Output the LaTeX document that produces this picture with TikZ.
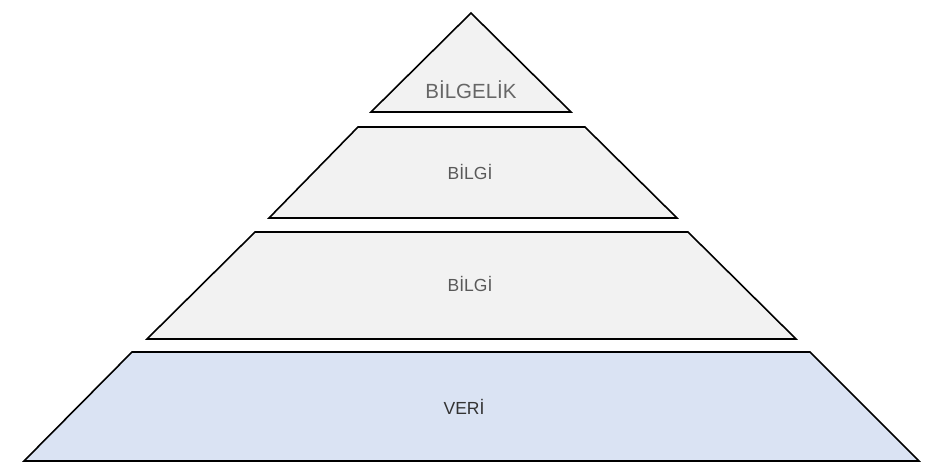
\documentclass[tikz,border=0pt]{standalone}
\usepackage{fontspec}
\setmainfont{Liberation Sans}
\definecolor{lvl}{HTML}{F2F2F2}
\definecolor{base}{HTML}{DAE3F3}
\begin{document}
\begin{tikzpicture}[x=1pt,y=-1pt,
  lvlbox/.style={draw=black,line width=1.6pt,line join=miter},
  lbl/.style={font=\fontsize{17.5}{20}\selectfont,text=black!65}]
\useasboundingbox (0,0) rectangle (943,474);
\draw[lvlbox,fill=lvl] (471,13) -- (571,112) -- (371,112) -- cycle;
\draw[lvlbox,fill=lvl] (358,127) -- (585,127) -- (677,218) -- (269,218) -- cycle;
\draw[lvlbox,fill=lvl] (255,232) -- (688,232) -- (796,339) -- (147,339) -- cycle;
\draw[lvlbox,fill=base] (132,352) -- (810,352) -- (919,461) -- (24,461) -- cycle;
\node[lbl,font=\fontsize{20.5}{23}\selectfont,text=black!60] (t1) at (471,90) {BİLGELİK};
\node[lbl] (t2) at (470,172) {BİLGİ};
\node[lbl] (t3) at (470,284) {BİLGİ};
\node[lbl,text=black!80] (t4) at (464,407) {VERİ};
\end{tikzpicture}
\end{document}
